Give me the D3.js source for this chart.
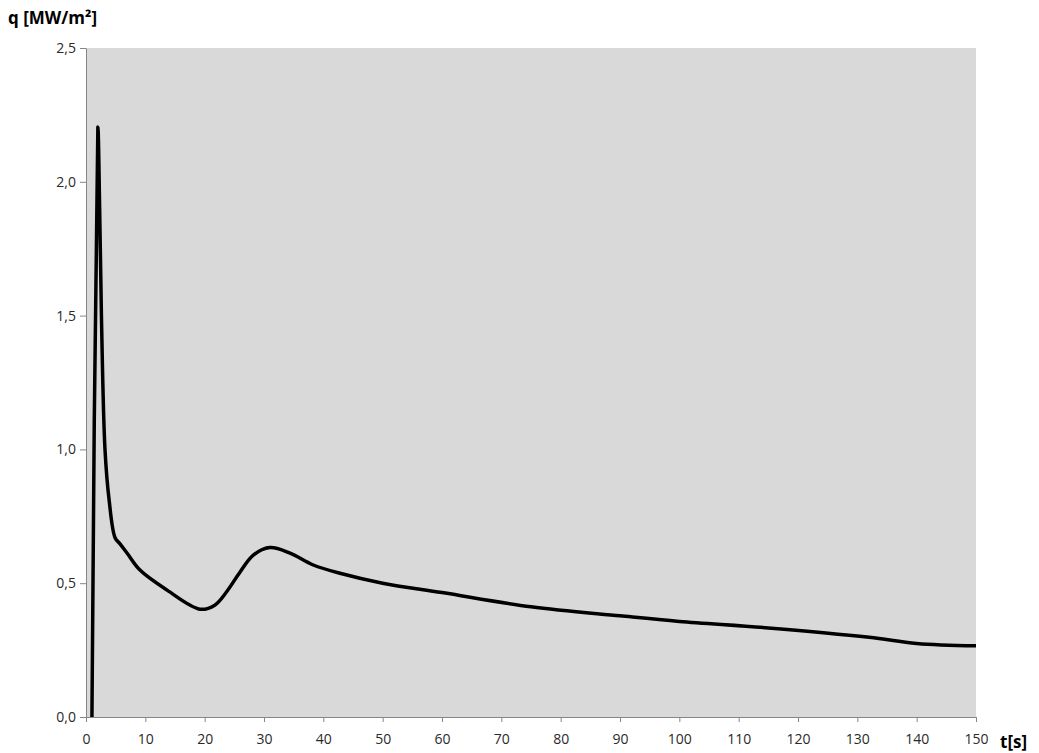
<!DOCTYPE html>
<html>
<head>
<meta charset="utf-8">
<script src="https://cdn.jsdelivr.net/npm/d3@7"></script>
<style>
  body { margin: 0; background: #fff; }
  svg text { font-family: "Open Sans", "Noto Sans", sans-serif; }
</style>
</head>
<body>
<div id="chart"></div>
<script>
// time [s] and heat flux [MW/m2]
const tValues = [1.0, 2.0, 2.3, 2.6, 3.2, 3.9, 4.9, 5.7, 7.0, 9.1, 13.6, 19.2, 21.7, 23.7, 26.0, 28.2, 31.0, 34.4, 38.3, 42.8, 50, 60, 75, 90, 100, 115, 132, 140, 150];
const qValues = [0, 2.205, 1.9, 1.5, 1.0, 0.81, 0.67, 0.648, 0.61, 0.549, 0.475, 0.403, 0.418, 0.468, 0.543, 0.605, 0.633, 0.612, 0.568, 0.537, 0.50, 0.465, 0.412, 0.378, 0.357, 0.333, 0.298, 0.275, 0.266];
const xTicks = d3.range(0, 151, 10);
const yTicks = [0, 0.5, 1.0, 1.5, 2.0, 2.5];

const margin = { top: 48, right: 63, bottom: 36, left: 86 },
    width = 1039 - margin.left - margin.right,
    height = 753 - margin.top - margin.bottom;

const svg = d3.select("#chart")
  .append("svg")
  .attr("width", 1039)
  .attr("height", 753);

const g = svg.append("g")
  .attr("transform", `translate(${margin.left},${margin.top})`);

const x = d3.scaleLinear().domain([0, 150]).range([0, width]);
const y = d3.scaleLinear().domain([0, 2.5]).range([height, 0]);

g.append("rect")
  .attr("width", width)
  .attr("height", height)
  .attr("fill", "#d9d9d9");

const fmt = d => d3.format(".1f")(d).replace(".", ",");

const xAxis = g.append("g")
  .attr("transform", `translate(0,${height})`)
  .call(d3.axisBottom(x).tickValues(xTicks).tickSize(5).tickSizeOuter(0).tickPadding(12));

const yAxis = g.append("g")
  .call(d3.axisLeft(y).tickValues(yTicks).tickSize(6).tickSizeOuter(0).tickPadding(4).tickFormat(fmt));

[xAxis, yAxis].forEach(ax => {
  ax.select(".domain").attr("stroke", "#868686");
  ax.selectAll(".tick line").attr("stroke", "#868686");
  ax.selectAll(".tick text")
    .style("font-size", "14px")
    .attr("fill", "#2a2a2a");
});

const data = tValues.map((t, i) => ({ t, q: qValues[i] }));

g.append("path")
  .datum(data)
  .attr("fill", "none")
  .attr("stroke", "#000")
  .attr("stroke-width", 3.5)
  .attr("stroke-linejoin", "round")
  .attr("d", d3.line()
    .x(d => x(d.t))
    .y(d => y(d.q))
    .curve(d3.curveCatmullRom.alpha(0.5)));

svg.append("text")
  .attr("x", 8)
  .attr("y", 24)
  .style("font-size", "17px")
  .style("font-weight", "bold")
  .text("q [MW/m²]");

svg.append("text")
  .attr("x", 1000)
  .attr("y", 748)
  .style("font-size", "17px")
  .style("font-weight", "bold")
  .text("t[s]");
</script>
</body>
</html>
